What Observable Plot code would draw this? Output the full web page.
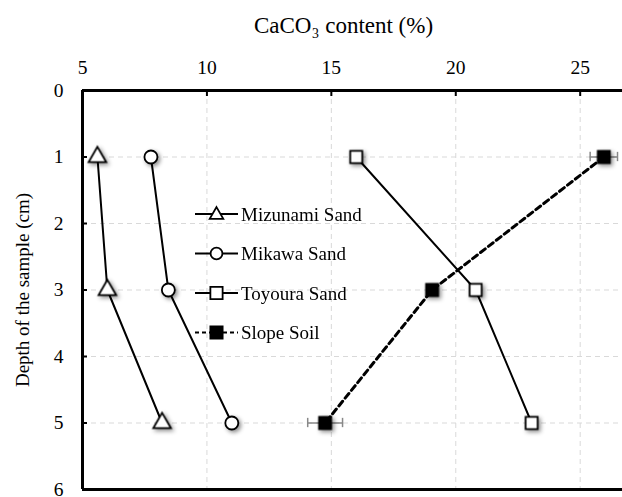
<!DOCTYPE html>
<html>
<head>
<meta charset="utf-8">
<script src="https://cdn.jsdelivr.net/npm/d3@7"></script>
<script src="https://cdn.jsdelivr.net/npm/@observablehq/plot@0.6"></script>
<style>
  body { margin: 0; background: #fff; }
  #wrap { position: relative; width: 622px; height: 497px; overflow: hidden; font-family: "Liberation Serif", "Times New Roman", serif; }
  #wrap svg, #wrap svg text { font-family: "Liberation Serif", "Times New Roman", serif !important; }
  .shadow { filter: drop-shadow(2px 2px 2px rgba(0,0,0,0.45)); }
  #legend { position: absolute; left: 195px; top: 195px; }
</style>
</head>
<body>
<div id="wrap"></div>
<script>
// Data
const depths = [1, 3, 5];
const mizunami = [5.6, 6.0, 8.2];
const mikawa = [7.75, 8.45, 11.0];
const toyoura = [16.0, 20.8, 23.05];
const slope = [25.95, 19.05, 14.75];
const slopeErr = [0.55, 0.2, 0.7];
const seriesNames = ["Mizunami Sand", "Mikawa Sand", "Toyoura Sand", "Slope Soil"];
const xTicks = [5, 10, 15, 20, 25];
const yTicks = [0, 1, 2, 3, 4, 5, 6];

const mk = (vals) => depths.map((d, i) => ({depth: d, v: vals[i]}));
const dMiz = mk(mizunami), dMik = mk(mikawa), dToy = mk(toyoura);
const dSlope = depths.map((d, i) => ({depth: d, v: slope[i], e: slopeErr[i]}));

const font = '"Liberation Serif", "Times New Roman", serif';

const chart = Plot.plot({
  width: 622,
  height: 497,
  marginLeft: 82,
  marginRight: 0,
  marginTop: 90,
  marginBottom: 8,
  style: {fontFamily: font, fontSize: "19px", color: "#000", background: "#fff", overflow: "visible"},
  x: {domain: [5, 26.7], ticks: xTicks, axis: null},
  y: {domain: [0, 6], reverse: true, ticks: yTicks, axis: null},
  marks: [
    Plot.gridX(xTicks.slice(1), {stroke: "#d9d9d9", strokeOpacity: 1, strokeDasharray: "5,4"}),
    Plot.gridY(yTicks.slice(1, -1), {stroke: "#d9d9d9", strokeOpacity: 1, strokeDasharray: "5,4"}),
    Plot.axisX(xTicks, {anchor: "top", tickSize: -5, tickPadding: 22, strokeWidth: 2, fontSize: 19.5, fontFamily: font, tickFormat: d3.format("d"), label: null}),
    Plot.axisY(yTicks, {anchor: "left", tickSize: -5, tickPadding: 24, strokeWidth: 2, fontSize: 19.5, fontFamily: font, tickFormat: d3.format("d"), label: null}),
    Plot.ruleY([0], {strokeWidth: 3}),
    Plot.ruleY([6], {strokeWidth: 3}),
    Plot.ruleX([5], {strokeWidth: 3}),
    Plot.text(["CaCO₃ content (%)"], {frameAnchor: "top", lineAnchor: "middle", dy: -65, dx: -9, fontSize: 23, fontFamily: font, text: d => d}),
    Plot.text(["Depth of the sample (cm)"], {frameAnchor: "left", dx: -60, rotate: -90, textAnchor: "middle", fontSize: 19, fontFamily: font, text: d => d}),
    // error bars
    Plot.ruleY(dSlope, {y: "depth", x1: d => d.v - d.e, x2: d => d.v + d.e, stroke: "#888", strokeWidth: 1.5}),
    Plot.ruleX(dSlope, {x: d => d.v - d.e, y1: d => d.depth - 0.07, y2: d => d.depth + 0.07, stroke: "#888", strokeWidth: 1.5}),
    Plot.ruleX(dSlope, {x: d => d.v + d.e, y1: d => d.depth - 0.07, y2: d => d.depth + 0.07, stroke: "#888", strokeWidth: 1.5}),
    Plot.line(dMiz, {x: "v", y: "depth", stroke: "#000", strokeWidth: 2}),
    Plot.line(dMik, {x: "v", y: "depth", stroke: "#000", strokeWidth: 2}),
    Plot.line(dToy, {x: "v", y: "depth", stroke: "#000", strokeWidth: 2}),
    Plot.line(dSlope, {x: "v", y: "depth", stroke: "#000", strokeWidth: 3, strokeDasharray: "6,4"}),
    Plot.dot(dMiz, {x: "v", y: "depth", symbol: "triangle", r: 6.5, fill: "#fff", stroke: "#000", strokeWidth: 1.8, className: "shadow"}),
    Plot.dot(dMik, {x: "v", y: "depth", symbol: "circle", r: 6.5, fill: "#fff", stroke: "#000", strokeWidth: 1.8, className: "shadow"}),
    Plot.dot(dToy, {x: "v", y: "depth", symbol: "square", r: 6.8, fill: "#fff", stroke: "#000", strokeWidth: 1.8, className: "shadow"}),
    Plot.dot(dSlope, {x: "v", y: "depth", symbol: "square", r: 6.8, fill: "#000", stroke: "#000", strokeWidth: 1.8, className: "shadow"})
  ]
});

const wrap = document.getElementById("wrap");
wrap.appendChild(chart);

// Legend (SVG overlay)
const legendSymbols = ["triangle", "circle", "square", "square"];
const legendFills = ["#fff", "#fff", "#fff", "#000"];
const legendDash = [null, null, null, "4,3"];
const lg = d3.create("svg").attr("id", "legend").attr("width", 200).attr("height", 160)
  .style("font-family", font).style("font-size", "19px");
seriesNames.forEach((name, i) => {
  const g = lg.append("g").attr("transform", `translate(0, ${19 + i * 39.5})`);
  g.append("line").attr("x1", 0).attr("x2", 43).attr("y1", 0).attr("y2", 0)
    .attr("stroke", "#000").attr("stroke-width", 2).attr("stroke-dasharray", legendDash[i]);
  const sym = legendSymbols[i] === "triangle" ? d3.symbolTriangle : legendSymbols[i] === "circle" ? d3.symbolCircle : d3.symbolSquare;
  const size = legendSymbols[i] === "triangle" ? 80 : legendSymbols[i] === "circle" ? 110 : 150;
  g.append("path").attr("d", d3.symbol(sym, size)()).attr("transform", `translate(21.5, ${legendSymbols[i] === "triangle" ? 1 : 0})`)
    .attr("fill", legendFills[i]).attr("stroke", "#000").attr("stroke-width", 1.8);
  g.append("text").attr("x", 46).attr("y", 0).attr("dy", "0.35em").attr("fill", "#000").text(name);
});
wrap.appendChild(lg.node());
</script>
</body>
</html>
